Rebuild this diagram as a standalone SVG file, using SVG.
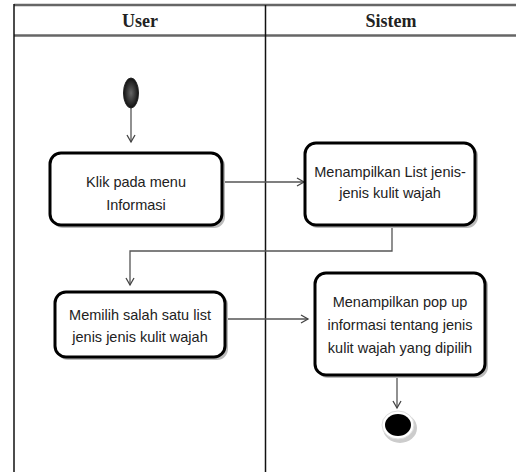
<svg xmlns="http://www.w3.org/2000/svg" width="516" height="472" viewBox="0 0 516 472">
<style>
.lane{stroke:#111;stroke-width:1.5;fill:none}
.hline{stroke:#666;stroke-width:2.5;fill:none}
.hdr{font-family:"Liberation Serif",serif;font-weight:bold;font-size:18px;fill:#222;text-anchor:middle}
.box{fill:#fff;stroke:#000;stroke-width:3}
.shadow{fill:#bbb;stroke:none}
.txt{font-family:"Liberation Sans",Arial,sans-serif;font-size:14.5px;fill:#222;text-anchor:middle}
.conn{stroke:#555;stroke-width:1.3;fill:none;marker-end:url(#arr)}
</style>
<defs>
<marker id="arr" markerWidth="10" markerHeight="10" refX="8" refY="5" orient="auto" markerUnits="userSpaceOnUse">
<path d="M1,1 L8,5 L1,9" fill="none" stroke="#444" stroke-width="1.3"/>
</marker>
<radialGradient id="ig" cx="0.5" cy="0.5" r="0.5">
<stop offset="0" stop-color="#666"/>
<stop offset="1" stop-color="#111"/>
</radialGradient>
</defs>
<rect width="516" height="472" fill="#fff"/>
<g id="lanes">
<line class="hline" x1="14" y1="5" x2="516" y2="5"/>
<line class="hline" x1="14" y1="35.5" x2="516" y2="35.5"/>
<line class="lane" x1="14" y1="4" x2="14" y2="472"/>
<line class="lane" x1="265.5" y1="5" x2="265.5" y2="472"/>
<text class="hdr" x="140" y="27">User</text>
<text class="hdr" x="391" y="27">Sistem</text>
</g>
<g id="connectors">
<line class="conn" x1="131" y1="107" x2="131" y2="142"/>
<line class="conn" x1="222" y1="182" x2="304" y2="182"/>
<polyline class="conn" points="392,226 392,251 130,251 130,285"/>
<line class="conn" x1="225" y1="319" x2="308" y2="319"/>
<line class="conn" x1="397" y1="375" x2="397" y2="408"/>
</g>
<g id="start">
<ellipse cx="131" cy="93" rx="7.5" ry="15" fill="url(#ig)" stroke="#222" stroke-width="1"/>
</g>
<g id="n1">
<rect class="shadow" x="52" y="155" width="173" height="73" rx="11"/>
<rect class="box" x="50" y="153" width="172" height="72" rx="11"/>
<text class="txt" x="136" y="187">Klik pada menu</text>
<text class="txt" x="136" y="210">Informasi</text>
</g>
<g id="n2">
<rect class="shadow" x="307" y="145" width="171" height="83" rx="11"/>
<rect class="box" x="305" y="143" width="170" height="82" rx="11"/>
<text class="txt" x="390" y="177">Menampilkan List jenis-</text>
<text class="txt" x="390" y="198">jenis kulit wajah</text>
</g>
<g id="n3">
<rect class="shadow" x="57" y="294" width="171" height="66" rx="11"/>
<rect class="box" x="55" y="292" width="170" height="65" rx="11"/>
<text class="txt" x="140" y="320">Memilih salah satu list</text>
<text class="txt" x="140" y="342">jenis jenis kulit wajah</text>
</g>
<g id="n4">
<rect class="shadow" x="317" y="275" width="171" height="103" rx="11"/>
<rect class="box" x="315" y="273" width="170" height="102" rx="11"/>
<text class="txt" x="400" y="307">Menampilkan pop up</text>
<text class="txt" x="400" y="330">informasi tentang jenis</text>
<text class="txt" x="400" y="353">kulit wajah yang dipilih</text>
</g>
<g id="end">
<ellipse cx="400" cy="428" rx="17" ry="15" fill="#ccc"/>
<ellipse cx="398" cy="425" rx="16" ry="14" fill="#fff" stroke="#ddd" stroke-width="1"/>
<ellipse cx="398" cy="425" rx="13" ry="11" fill="#000"/>
</g>
</svg>
